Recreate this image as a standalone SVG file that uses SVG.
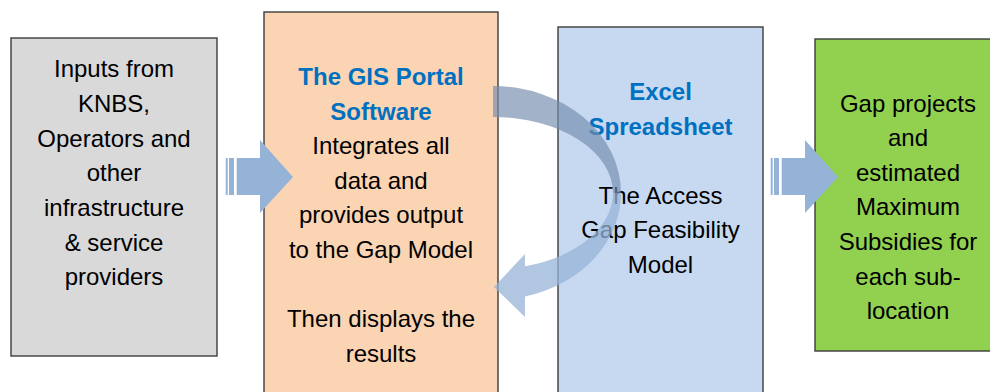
<svg xmlns="http://www.w3.org/2000/svg" xmlns:xlink="http://www.w3.org/1999/xlink" width="990" height="392" viewBox="0 0 990 392">
<style>
  .box { stroke: #3c3c3c; stroke-width: 1.4; }
  .t { font-family: "Liberation Sans", Arial, sans-serif; font-size: 24px; fill: #000; text-anchor: middle; }
  .title { font-weight: bold; fill: #0070c0; }
  .arr { fill: #95b3d7; }
</style>
<defs>
  <g id="stripedArrow" class="arr">
    <rect x="225.7" y="158" width="2" height="37"/>
    <rect x="229" y="158" width="5" height="37"/>
    <path d="M236.7 158 H260 V140 L293 177 L260 213 V195 H236.7 Z"/>
  </g>
</defs>
<rect width="990" height="392" fill="#ffffff"/>

<g id="node-inputs">
  <rect class="box" x="11" y="38" width="206" height="318" fill="#d9d9d9"/>
  <text class="t" x="114" y="77">Inputs from</text>
  <text class="t" x="114" y="112">KNBS,</text>
  <text class="t" x="114" y="146.5">Operators and</text>
  <text class="t" x="114" y="181">other</text>
  <text class="t" x="114" y="216">infrastructure</text>
  <text class="t" x="114" y="251">&amp; service</text>
  <text class="t" x="114" y="285">providers</text>
</g>

<g id="node-gis">
  <rect class="box" x="264" y="12" width="234" height="400" fill="#fbd4b4"/>
  <text class="t title" x="381" y="85">The GIS Portal</text>
  <text class="t title" x="381" y="119.6">Software</text>
  <text class="t" x="381" y="154.2">Integrates all</text>
  <text class="t" x="381" y="188.8">data and</text>
  <text class="t" x="381" y="223.4">provides output</text>
  <text class="t" x="381" y="258">to the Gap Model</text>
  <text class="t" x="381" y="327.2">Then displays the</text>
  <text class="t" x="381" y="361.8">results</text>
</g>

<g id="node-excel">
  <rect class="box" x="558" y="27" width="205" height="390" fill="#c6d9f1"/>
  <text class="t title" x="660.5" y="100">Excel</text>
  <text class="t title" x="660.5" y="134.6">Spreadsheet</text>
  <text class="t" x="660.5" y="203.8">The Access</text>
  <text class="t" x="660.5" y="238.4">Gap Feasibility</text>
  <text class="t" x="660.5" y="273">Model</text>
</g>

<g id="node-gap">
  <rect class="box" x="815" y="39" width="200" height="312" fill="#92d050"/>
  <text class="t" x="908" y="111.6">Gap projects</text>
  <text class="t" x="908" y="146.2">and</text>
  <text class="t" x="908" y="180.8">estimated</text>
  <text class="t" x="908" y="215.4">Maximum</text>
  <text class="t" x="908" y="250">Subsidies for</text>
  <text class="t" x="908" y="284.6">each sub-</text>
  <text class="t" x="908" y="319.2">location</text>
</g>

<g id="connectors">
  <use xlink:href="#stripedArrow"/>
  <use xlink:href="#stripedArrow" transform="translate(545,0)"/>
  <path d="M493 86 A128 107 0 0 1 621 193 L613 193 A120 76 0 0 0 493 117 Z" fill="rgb(116,142,175)" fill-opacity="0.68"/>
  <path d="M621 193 A128 107 0 0 1 525 296.6 L525 317 L494 287 L525 254 L525 266.2 A120 76 0 0 0 613 193 Z" fill="#95b3d7" fill-opacity="0.75"/>
</g>
</svg>
